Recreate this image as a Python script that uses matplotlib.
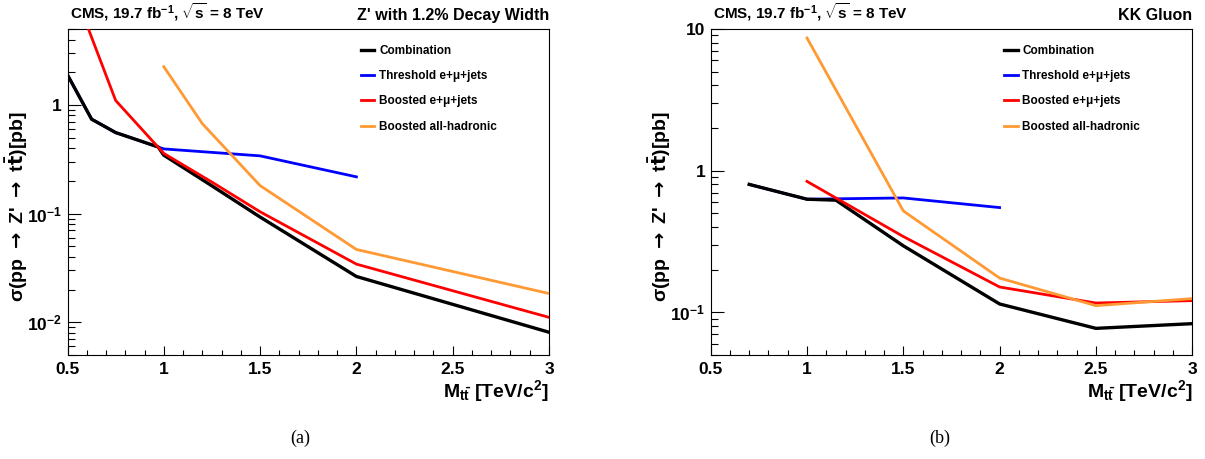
import matplotlib
matplotlib.use("Agg")
import matplotlib.pyplot as plt
from matplotlib.ticker import LogLocator, MultipleLocator, NullFormatter

plt.rcParams["font.family"] = ["Liberation Sans", "DejaVu Sans"]
plt.rcParams["font.weight"] = "bold"
plt.rcParams["mathtext.fontset"] = "custom"
plt.rcParams["mathtext.rm"] = "Liberation Sans:bold"
plt.rcParams["mathtext.it"] = "Liberation Sans:bold"
plt.rcParams["mathtext.bf"] = "Liberation Sans:bold"
plt.rcParams["mathtext.sf"] = "Liberation Sans:bold"

# ---- (a) Z' 1.2% width ----
zp_comb_m = [0.5, 0.625, 0.75, 0.97, 1.0, 1.25, 1.5, 2.0, 3.0]
zp_comb = [1.89, 0.74, 0.557, 0.411, 0.345, 0.18, 0.093, 0.0264, 0.0081]
zp_thr_m = [0.5, 0.625, 0.75, 1.0, 1.5, 2.0]
zp_thr = [1.89, 0.74, 0.557, 0.394, 0.34, 0.218]
zp_lj_m = [0.5, 0.75, 1.0, 1.25, 1.5, 2.0, 3.0]
zp_lj = [16.0, 1.10, 0.358, 0.195, 0.104, 0.0343, 0.0111]
zp_had_m = [1.0, 1.2, 1.5, 2.0, 3.0]
zp_had = [2.25, 0.673, 0.181, 0.0468, 0.0184]

# ---- (b) KK gluon ----
kk_comb_m = [0.7, 1.0, 1.15, 1.5, 2.0, 2.5, 3.0]
kk_comb = [0.80, 0.629, 0.619, 0.295, 0.1146, 0.0771, 0.0832]
kk_thr_m = [0.7, 1.0, 1.5, 2.0]
kk_thr = [0.80, 0.629, 0.642, 0.549]
kk_lj_m = [1.0, 1.5, 2.0, 2.5, 3.0]
kk_lj = [0.84, 0.343, 0.151, 0.1164, 0.121]
kk_had_m = [1.0, 1.5, 2.0, 2.5, 3.0]
kk_had = [8.64, 0.52, 0.1746, 0.1115, 0.125]

labels = ["Combination", "Threshold e+\u03bc+jets", "Boosted e+\u03bc+jets",
          "Boosted all-hadronic"]
colors = ["black", "#0000ff", "#ff0000", "#ff9933"]

xticks = [0.5, 1, 1.5, 2, 2.5, 3]
xtick_labels = ["0.5", "1", "1.5", "2", "2.5", "3"]
ytick_a = [0.01, 0.1, 1]
ytick_a_labels = [r"10$^{-2}$", r"10$^{-1}$", "1"]
ytick_b = [0.1, 1, 10]
ytick_b_labels = [r"10$^{-1}$", "1", "10"]

ylabel = ("\u03c3(pp " + r"$\rightarrow$" + " Z' " + r"$\rightarrow$"
          + " t" + r"$\mathbf{\bar{t}}$" + ")[pb]")

panels = [
    dict(series=[(zp_comb_m, zp_comb), (zp_thr_m, zp_thr), (zp_lj_m, zp_lj), (zp_had_m, zp_had)],
         ylim=(0.005, 5), yticks=ytick_a, ylabels=ytick_a_labels,
         right_title="Z' with 1.2% Decay Width", caption="(a)", left=67.5, cap_x=300),
    dict(series=[(kk_comb_m, kk_comb), (kk_thr_m, kk_thr), (kk_lj_m, kk_lj), (kk_had_m, kk_had)],
         ylim=(0.05, 10), yticks=ytick_b, ylabels=ytick_b_labels,
         right_title="KK Gluon", caption="(b)", left=710.7, cap_x=940),
]

W, H = 1205, 459
fig = plt.figure(figsize=(W / 100, H / 100), dpi=100)

for p in panels:
    ax = fig.add_axes([p["left"] / W, (H - 355) / H, 481.5 / W, 326 / H])
    zorders = [4, 3, 5, 6]
    widths = [2.4, 2.0, 2.0, 2.0]
    handles = []
    for (m, v), c, lab, z, lw in zip(p["series"], colors, labels, zorders, widths):
        h, = ax.plot(m, v, color=c, lw=lw, zorder=z, label=lab,
                     solid_joinstyle="miter")
        handles.append(h)
    ax.set_yscale("log")
    ax.set_xlim(0.5, 3)
    ax.set_ylim(*p["ylim"])
    ax.set_xticks(xticks, xtick_labels)
    ax.xaxis.set_minor_locator(MultipleLocator(0.1))
    ax.set_yticks(p["yticks"], p["ylabels"])
    ax.yaxis.set_minor_locator(LogLocator(base=10, subs=range(2, 10)))
    ax.yaxis.set_minor_formatter(NullFormatter())
    ax.tick_params(which="both", direction="in", top=False, right=False,
                   labelsize=12.5, width=0.8)
    ax.tick_params(axis="y", which="major", length=9.5, pad=4)
    ax.tick_params(axis="y", which="minor", length=5)
    ax.tick_params(axis="x", which="major", length=6.5, pad=5)
    ax.tick_params(axis="x", which="minor", length=3.3)
    for s in ax.spines.values():
        s.set_linewidth(0.8)

    ax.legend(handles, labels, loc="upper left", bbox_to_anchor=(0.609, 0.951),
              frameon=False, fontsize=8.5, handlelength=1.15, handletextpad=0.4,
              labelspacing=1.12, borderpad=0, borderaxespad=0)

    ax.text(0.005, 1.018, r"CMS, 19.7 fb$^{-1}$, $\sqrt{\rm s}$ = 8 TeV",
            transform=ax.transAxes, ha="left", va="bottom", fontsize=11)
    ax.text(1.0, 1.018, p["right_title"], transform=ax.transAxes,
            ha="right", va="bottom", fontsize=11.5)
    ax.text(-0.106, 0.454, ylabel, transform=ax.transAxes, rotation=90,
            ha="center", va="center", fontsize=14, math_fontfamily="dejavusans")
    ax.text(1.0, -0.072, r"M$_{\rm t\bar{t}}$ [TeV/c$^{2}$]",
            transform=ax.transAxes, ha="right", va="top", fontsize=14)

    fig.text(p["cap_x"] / W, 1 - 438 / H, p["caption"], ha="center",
             va="center", fontsize=13, family="Liberation Serif",
             fontweight="normal")

fig.savefig("out.png", dpi=100)
